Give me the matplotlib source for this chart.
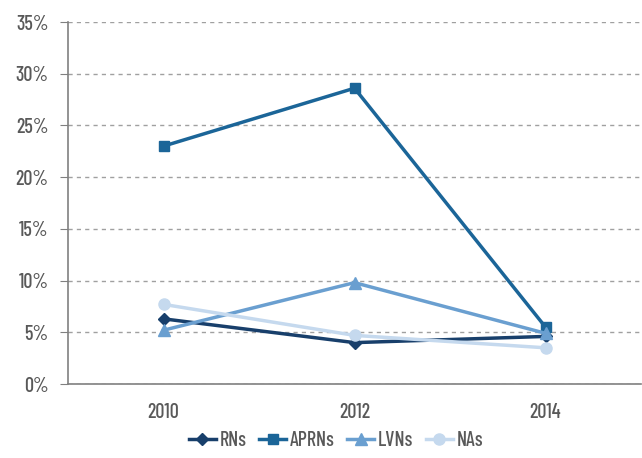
import matplotlib
matplotlib.use("Agg")
import matplotlib.pyplot as plt
from matplotlib.ticker import FuncFormatter

years = ["2010", "2012", "2014"]
rns = [6.3, 4.0, 4.6]
aprns = [23.0, 28.6, 5.5]
lvns = [5.2, 9.8, 4.9]
nas = [7.7, 4.7, 3.5]

plt.rcParams['font.family'] = ['Barlow Condensed', 'Archivo Narrow', 'DejaVu Sans']
txt = '#595959'
fsize = 14.5
fw = 500

fig = plt.figure(figsize=(6.42, 4.58), dpi=100)
ax = fig.add_axes([68/642, 1-384/458, 573/642, (384-22)/458])

x = list(range(len(years)))
series = [
    ("RNs", rns, '#183f6b', 'D', 6),
    ("APRNs", aprns, '#1b6598', 's', 7),
    ("LVNs", lvns, '#6a9fd0', '^', 8),
    ("NAs", nas, '#c5d9ee', 'o', 8),
]
for name, vals, c, m, ms in series:
    ax.plot(x, vals, color=c, marker=m, markersize=ms, linewidth=2.5, label=name, zorder=3)

ax.set_xlim(-0.5, 2.5)
ax.set_ylim(0, 35)
ax.set_yticks(range(0, 36, 5))
ax.yaxis.set_major_formatter(FuncFormatter(lambda v, p: f"{int(v)}%"))
ax.set_xticks(x)
ax.set_xticklabels(years)
ax.grid(axis='y', linestyle=(0, (3, 3)), color='#a0a0a0', linewidth=1)
ax.set_axisbelow(True)
for s in ['top', 'right']:
    ax.spines[s].set_visible(False)
for s in ['left', 'bottom']:
    ax.spines[s].set_color('#808080')
    ax.spines[s].set_linewidth(1.2)
ax.tick_params(axis='y', length=6, color='#808080', colors=txt, labelsize=fsize, pad=8)
ax.tick_params(axis='x', length=0, colors=txt, labelsize=fsize, pad=14)
for lab in ax.get_yticklabels() + ax.get_xticklabels():
    lab.set_fontweight(fw)

leg = fig.legend(loc='center', bbox_to_anchor=(336/642, 17/458), ncol=4, frameon=False,
                 prop={'size': fsize, 'weight': fw}, handlelength=1.35, handletextpad=0.2,
                 columnspacing=0.6)
for t in leg.get_texts():
    t.set_color(txt)

fig.savefig("out.png", dpi=100)
